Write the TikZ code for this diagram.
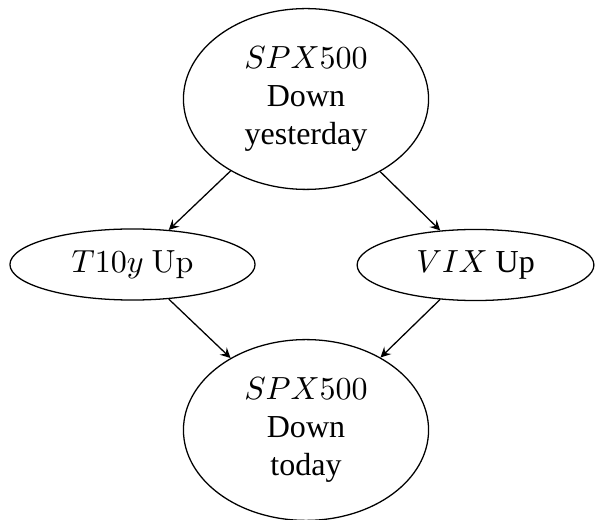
\documentclass[tikz,border=0pt]{standalone}
\usepackage[no-math]{fontspec}
\setmainfont{Liberation Serif}
\usepackage{tikz}
\usetikzlibrary{shapes.geometric}
\tikzstyle{event}=[draw, ellipse, align=center, inner sep=0pt, minimum width=76.6pt]
\tikzstyle{bigevent}=[event, minimum height=56.5pt]
\tikzstyle{smallevent}=[event, minimum height=22.2pt]
\tikzstyle{link}=[->, >=stealth]

\begin{document}
\begin{tikzpicture}[x=0.3125pt, y=-0.3125pt]
        \useasboundingbox (0, 0) rectangle (595, 520);
        \node[bigevent]                      (spxyest) at (306, 99) {$SPX500$\\Down\\yesterday};
        \node[smallevent]                    (tten) at (132.5, 264.5) {$T10y\ \mathrm{Up}$};
        \node[smallevent, minimum width=74pt] (vix) at (475.5, 265) {$VIX$ Up};
        \node[bigevent]                      (spxtod) at (306, 430) {$SPX500$\\Down\\today};
        \draw[link] (spxyest) -- (tten);
        \draw[link] (spxyest) -- (vix);
        \draw[link] (tten) -- (spxtod);
        \draw[link] (vix) -- (spxtod);
    \end{tikzpicture}
\end{document}
